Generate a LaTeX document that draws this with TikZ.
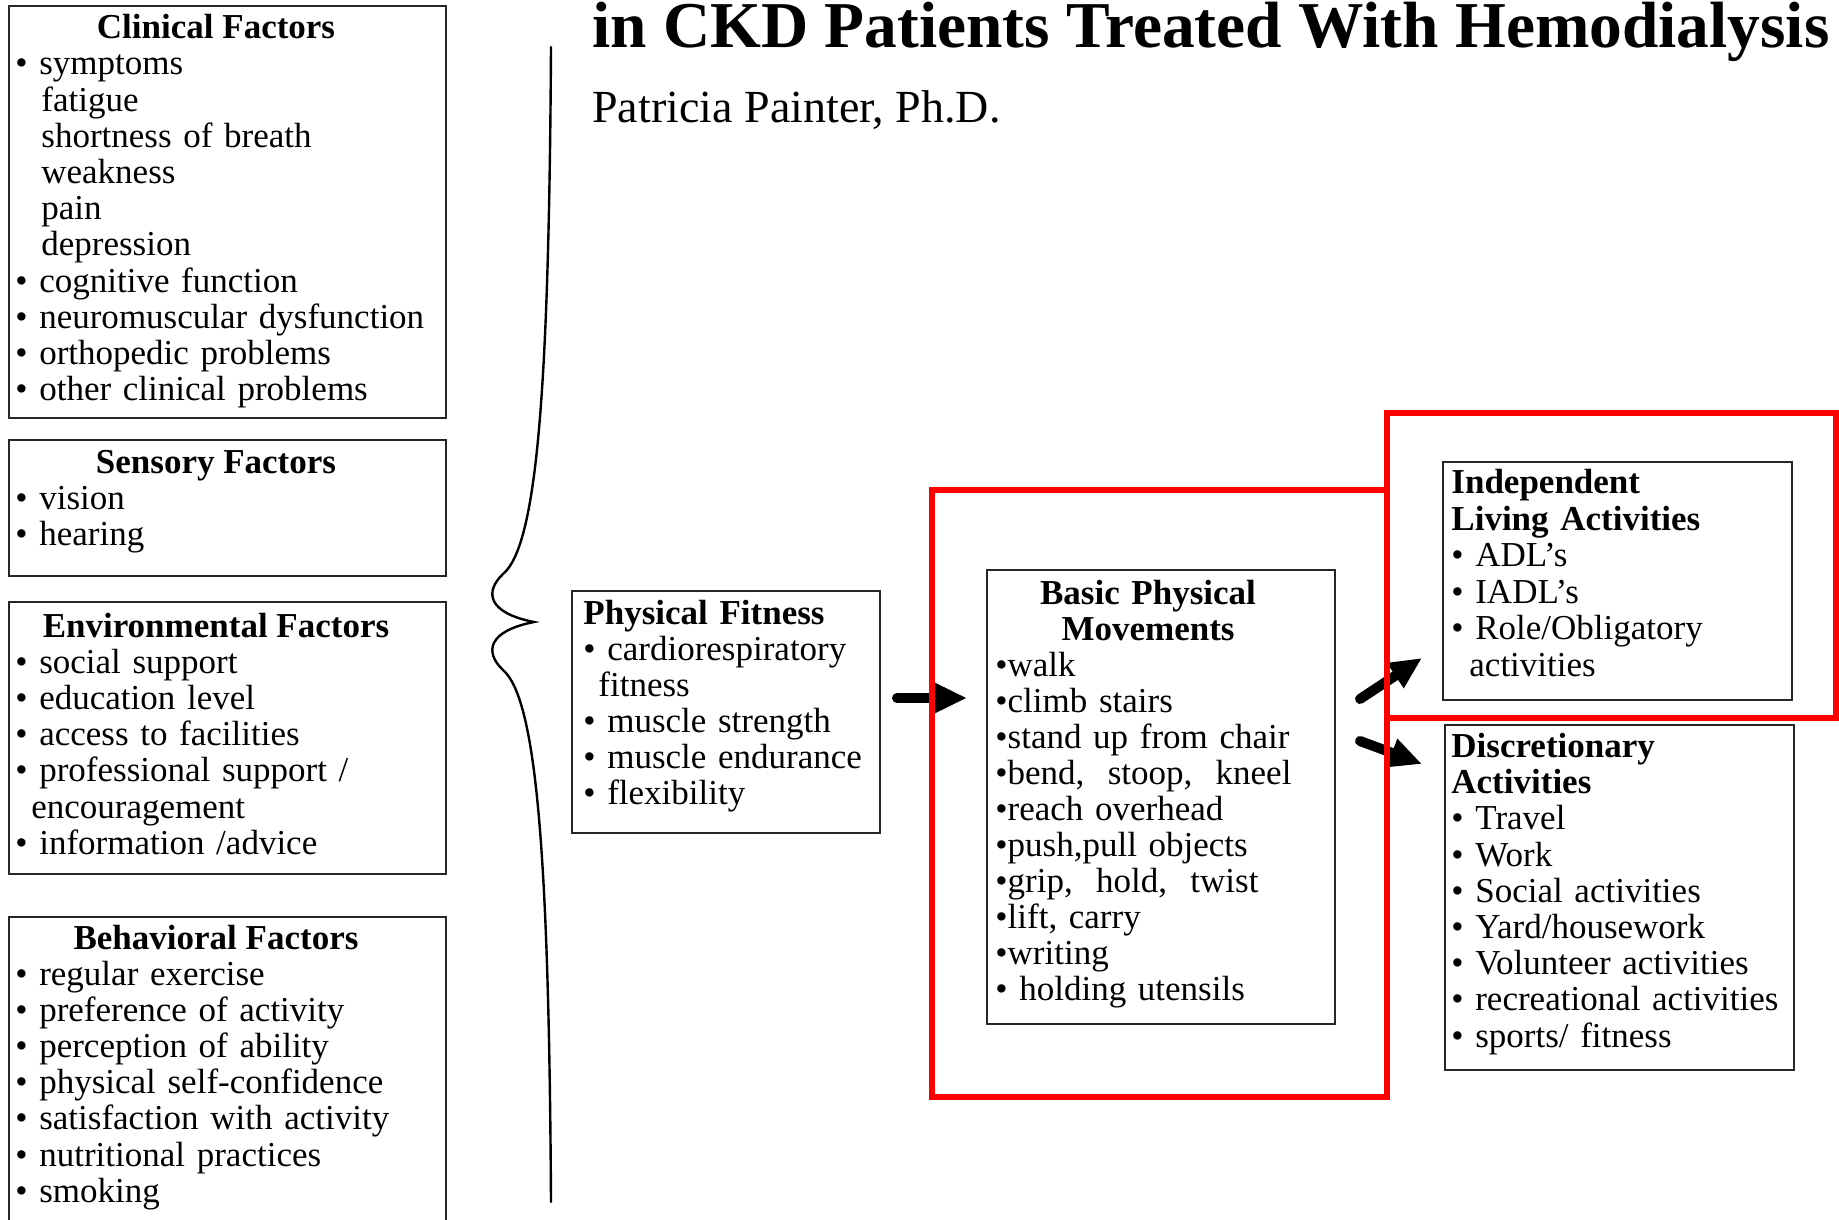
\documentclass[tikz,border=0pt]{standalone}
\usepackage{fontspec}
\setmainfont{Liberation Serif}
\usetikzlibrary{arrows.meta,fit,calc}

\tikzset{
  box/.style={draw=black!85, line width=1pt, inner sep=0pt},
  redframe/.style={draw=red, line width=3pt, inner sep=0pt},
  body/.style={inner sep=0pt, anchor=base west, align=left, text width=230pt,
    font=\fontsize{17.5}{#1}\selectfont},
  body/.default=18.1pt,
  head/.style={inner sep=0pt, anchor=base, font=\fontsize{17.5}{18.1}\selectfont\bfseries},
  fatarrow/.style={line width=5pt, line cap=round, -{Triangle[length=16pt,width=14pt]}},
  bracestroke/.style={line width=1.2pt, line cap=round},
}

\begin{document}
\begin{tikzpicture}[x=0.5pt, y=-0.5pt]
\useasboundingbox (0,0) rectangle (1839,1219);

% title lines
\node[inner sep=0pt, anchor=base west, font=\fontsize{32.7}{36}\selectfont\bfseries]
  (title) at (592,48) {in CKD Patients Treated With Hemodialysis};
\node[inner sep=0pt, anchor=base west, font=\fontsize{23}{26}\selectfont]
  (author) at (592,123) {Patricia Painter, Ph.D.};

% factor boxes on the left
\node[box, fit={(9,6) (446,418)}] (clinical) {};
\node[head] (clinicalHead) at (216,39) {Clinical Factors};
\node[body] (clinicalList) at (15,75) {%
  \textbullet\ symptoms\\
  \hspace*{13pt}fatigue\\
  \hspace*{13pt}shortness of breath\\
  \hspace*{13pt}weakness\\
  \hspace*{13pt}pain\\
  \hspace*{13pt}depression\\
  \textbullet\ cognitive function\\
  \textbullet\ neuromuscular dysfunction\\
  \textbullet\ orthopedic problems\\
  \textbullet\ other clinical problems};

\node[box, fit={(9,440) (446,576)}] (sensory) {};
\node[head] (sensoryHead) at (216,473) {Sensory Factors};
\node[body] (sensoryList) at (15,509) {%
  \textbullet\ vision\\
  \textbullet\ hearing};

\node[box, fit={(9,602) (446,874)}] (environ) {};
\node[head] (environHead) at (216,637) {Environmental Factors};
\node[body] (environList) at (15,673.2) {%
  \textbullet\ social support\\
  \textbullet\ education level\\
  \textbullet\ access to facilities\\
  \textbullet\ professional support /\\
  \hspace*{8pt}encouragement\\
  \textbullet\ information /advice};

\node[box, fit={(9,917) (446,1240)}] (behav) {};
\node[head] (behavHead) at (216,949) {Behavioral Factors};
\node[body] (behavList) at (15,985.1) {%
  \textbullet\ regular exercise\\
  \textbullet\ preference of activity\\
  \textbullet\ perception of ability\\
  \textbullet\ physical self-confidence\\
  \textbullet\ satisfaction with activity\\
  \textbullet\ nutritional practices\\
  \textbullet\ smoking};

% brace gathering the factors
\draw[bracestroke] (551,47)
  .. controls (549,380) and (538,545) .. (503,574)
  .. controls (484,592) and (488,613) .. (534,622)
  .. controls (488,631) and (484,652) .. (503,670)
  .. controls (538,700) and (549,870) .. (551,1202);

% physical fitness
\node[box, fit={(572,591) (880,833)}] (fitness) {};
\node[body=18.05pt] (fitnessList) at (583,624.2) {%
  \textbf{Physical Fitness}\\
  \textbullet\ cardiorespiratory\\
  \hspace*{7.5pt}fitness\\
  \textbullet\ muscle strength\\
  \textbullet\ muscle endurance\\
  \textbullet\ flexibility};

% basic physical movements
\node[box, fit={(987,570) (1335,1024)}] (basic) {};
\node[head, text width=200pt, align=center] (basicHead) at (1148,604.5)
  {Basic Physical\\Movements};
\node[body=18pt] (basicList) at (995,676.7) {%
  \textbullet walk\\
  \textbullet climb stairs\\
  \textbullet stand up from chair\\
  \textbullet bend,\ \ stoop,\ \ kneel\\
  \textbullet reach overhead\\
  \textbullet push,pull objects\\
  \textbullet grip,\ \ hold,\ \ twist\\
  \textbullet lift, carry\\
  \textbullet writing\\
  \textbullet\ holding utensils};

% outcome activities
\node[box, fit={(1443,462) (1792,700)}] (indep) {};
\node[body=18.3pt] (indepList) at (1451,493.5) {%
  \textbf{Independent}\\
  \textbf{Living Activities}\\
  \textbullet\ ADL’s\\
  \textbullet\ IADL’s\\
  \textbullet\ Role/Obligatory\\
  \hspace*{9pt}activities};

\node[box, fit={(1445,725) (1794,1070)}] (discr) {};
\node[body=18.1pt] (discrList) at (1451,757.5) {%
  \textbf{Discretionary}\\
  \textbf{Activities}\\
  \textbullet\ Travel\\
  \textbullet\ Work\\
  \textbullet\ Social activities\\
  \textbullet\ Yard/housework\\
  \textbullet\ Volunteer activities\\
  \textbullet\ recreational activities\\
  \textbullet\ sports/ fitness};

% connectors
\draw[fatarrow, shorten <=8pt, shorten >=9.5pt]
  (fitness.east |- 0,698) -- (basic.west |- 0,698);
\draw[fatarrow] ($(basic.north east)+(24,130)$) -- ($(indep.south west)+(-20,-43)$);
\draw[fatarrow] ($(basic.north east)+(24,172)$) -- ($(discr.north west)+(-22,40)$);

% highlight frames
\node[redframe, fit={(932,490) (1387,1097)}] (frameBasic) {};
\node[redframe, fit={(1387,413) (1836,718)}] (frameIndep) {};
\end{tikzpicture}
\end{document}
